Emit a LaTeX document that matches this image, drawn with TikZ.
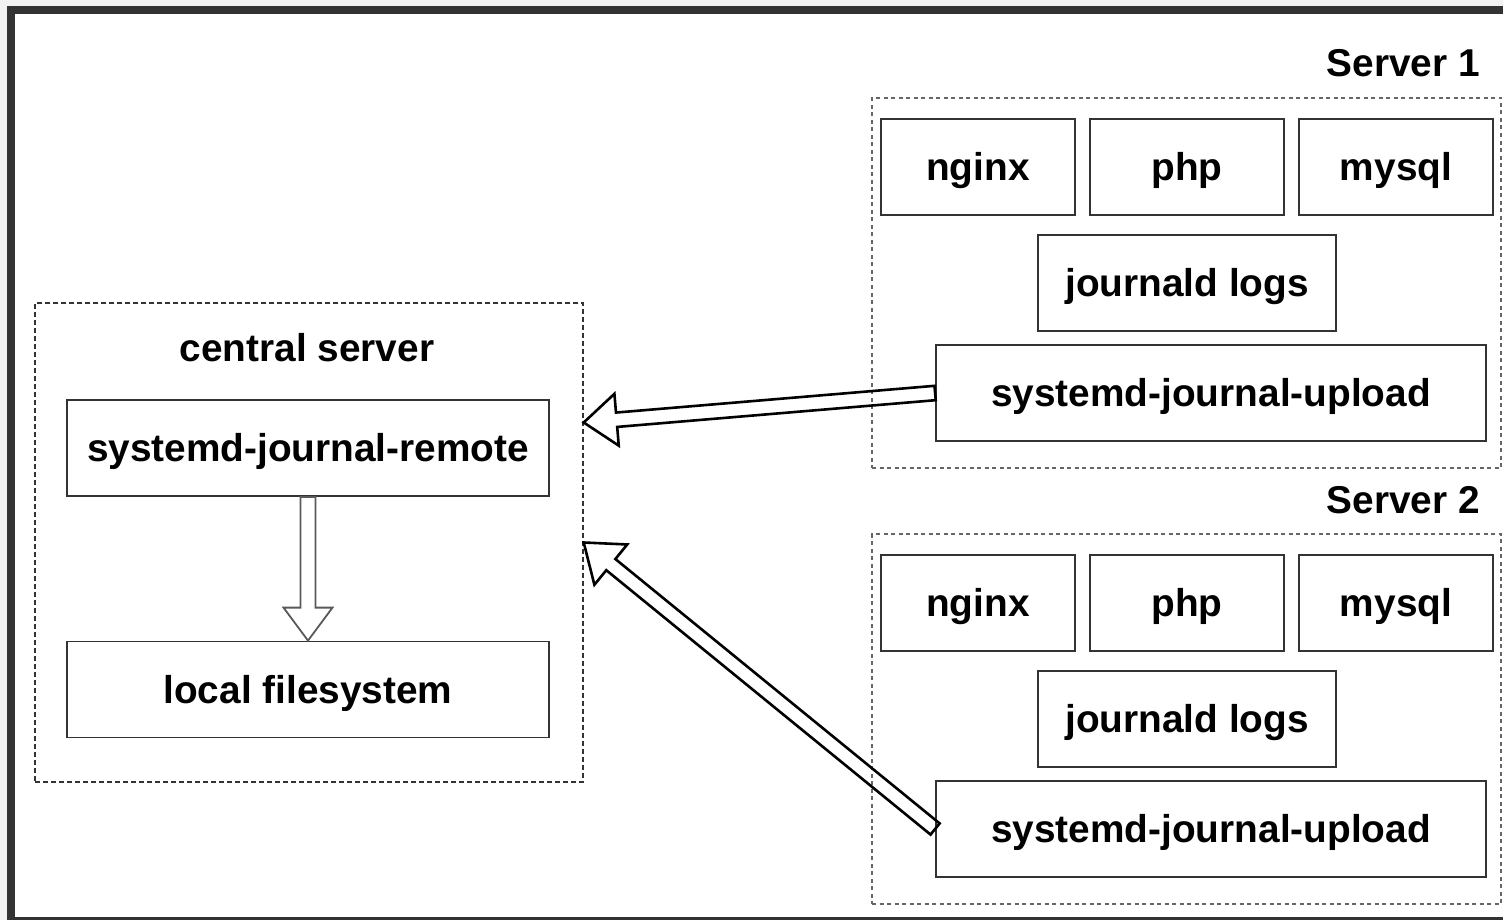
\documentclass[tikz,border=0pt]{standalone}
\usepackage{fontspec}
\setmainfont{Liberation Sans}
\usetikzlibrary{calc}
\newcommand\blockarrow[6]{%
  \path (#3) coordinate (baTip) ($(#3)!#6!(#2)$) coordinate (baNeck);
  \draw[#1] ($(#2)!#4!90:(baTip)$) -- ($(baNeck)!#4!90:(baTip)$) -- ($(baNeck)!#5!90:(baTip)$)
    -- (baTip) -- ($(baNeck)!#5!-90:(baTip)$) -- ($(baNeck)!#4!-90:(baTip)$)
    -- ($(#2)!#4!-90:(baTip)$) -- cycle;
}
\begin{document}
\begin{tikzpicture}[x=1pt,y=-1pt,
  txt/.style={font=\bfseries\fontsize{38.8}{40}\selectfont, text height=27.9pt, text depth=0pt, inner sep=0pt},
  box/.style={txt, draw=black!80, line width=1.8pt, minimum height=96pt},
  group/.style={draw=black!60, line width=1.8pt, dash pattern=on 4pt off 3.5pt, inner sep=0pt},
  cgroup/.style={draw=black!80, line width=1.4pt, dash pattern=on 5pt off 3pt, inner sep=0pt},
  hollow/.style={draw=black, line width=2.6pt, line join=miter},
  hollowgray/.style={draw=black!65, line width=1.8pt, line join=miter}]
\useasboundingbox (0,0) rectangle (1503,920);
\fill[black!5] (0,0) rectangle (1503,920);
\fill[black!80] (7,6) rectangle (1503,920);
\fill[white] (15,14) rectangle (1503,917);

% central server
\node[cgroup, minimum width=548pt, minimum height=479pt] (central) at (309,542.5) {};
\node[txt] (clabel) at (307,348) {central server};
\node[box, minimum width=482pt] (rem) at (308,448) {systemd-journal-remote};
\node[box, minimum width=482pt] (fs) at (308,689.5) {local filesystem};

% server 1
\node[group, minimum width=629pt, minimum height=370pt] (s1) at (1186.5,283) {};
\node[txt, anchor=base east] (s1label) at (1480,77) {Server 1};
\node[box, minimum width=194pt] (n1) at (978,167) {nginx};
\node[box, minimum width=194pt] (p1) at (1187,167) {php};
\node[box, minimum width=194pt] (m1) at (1396,167) {mysql};
\node[box, minimum width=298pt] (j1) at (1187,283) {journald logs};
\node[box, minimum width=550pt] (u1) at (1211,393) {systemd-journal-upload};

% server 2
\node[group, minimum width=629pt, minimum height=370pt] (s2) at (1186.5,719) {};
\node[txt, anchor=base east] (s2label) at (1480,513) {Server 2};
\node[box, minimum width=194pt] (n2) at (978,603) {nginx};
\node[box, minimum width=194pt] (p2) at (1187,603) {php};
\node[box, minimum width=194pt] (m2) at (1396,603) {mysql};
\node[box, minimum width=298pt] (j2) at (1187,719) {journald logs};
\node[box, minimum width=550pt] (u2) at (1211,829) {systemd-journal-upload};

% arrows
\coordinate (t1) at ($(central.east)+(0,-120)$);
\blockarrow{hollow}{u1.west}{t1}{7.2pt}{26pt}{33pt}
\blockarrow{hollow}{u2.west}{central.east}{7.2pt}{26pt}{35pt}
\blockarrow{hollowgray}{rem.south}{fs.north}{7.5pt}{24.5pt}{33pt}
\end{tikzpicture}
\end{document}
